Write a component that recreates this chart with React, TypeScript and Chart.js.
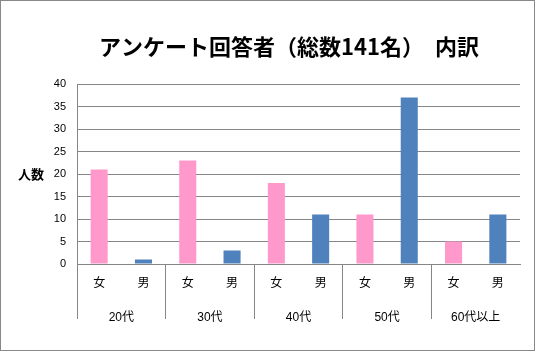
import React, { useEffect, useRef } from "react";
import { Chart, registerables } from "chart.js";

Chart.register(...registerables);

const titleText = "アンケート回答者（総数141名）　内訳";
const yTitle = "人数";
const ageGroups = ["20代", "30代", "40代", "50代", "60代以上"];
const sexes = ["女", "男"];
const femaleCounts = [21, 23, 18, 11, 5];
const maleCounts = [1, 3, 11, 37, 11];
const yTicksMax = 40;
const yTickStep = 5;

const PINK = "#FF99CC";
const BLUE = "#4F81BD";
const GRID = "#868686";
const FONT = "'Liberation Sans', 'Noto Sans CJK JP', sans-serif";
const CJK = "'Noto Sans CJK JP', sans-serif";

export default function App() {
  const ref = useRef<HTMLCanvasElement | null>(null);

  useEffect(() => {
    document.body.style.margin = "0";
    const canvas = ref.current;
    if (!canvas) return;

    const labels: string[] = [];
    const values: number[] = [];
    const colors: string[] = [];
    ageGroups.forEach((_, g) => {
      labels.push(sexes[0]);
      values.push(femaleCounts[g]);
      colors.push(PINK);
      labels.push(sexes[1]);
      values.push(maleCounts[g]);
      colors.push(BLUE);
    });

    const decor = {
      id: "decor",
      beforeDraw(chart: any) {
        const ctx = chart.ctx;
        ctx.save();
        ctx.fillStyle = "#fff";
        ctx.fillRect(0, 0, chart.width, chart.height);
        ctx.strokeStyle = "#888";
        ctx.lineWidth = 1;
        ctx.strokeRect(0.5, 0.5, 534, 350);
        ctx.restore();
      },
      afterDraw(chart: any) {
        const ctx = chart.ctx;
        const y = chart.scales.y;
        ctx.save();
        ctx.fillStyle = "#000";
        ctx.textAlign = "center";
        ctx.textBaseline = "middle";
        ctx.font = "bold 22px " + CJK;
        ctx.fillText(titleText, 289, 47);
        ctx.font = "bold 13px " + CJK;
        ctx.fillText(yTitle, 31, y.getPixelForValue(20));
        ctx.restore();
      },
    };

    const chart = new Chart(canvas, {
      type: "bar",
      data: {
        labels,
        datasets: [
          {
            data: values,
            backgroundColor: colors,
            barPercentage: 0.385,
            categoryPercentage: 1,
          },
        ],
      },
      options: {
        animation: false,
        responsive: false,
        layout: { padding: { top: 84, right: 16, left: 0, bottom: 0 } },
        plugins: {
          legend: { display: false },
          title: { display: false },
          tooltip: { enabled: false },
        },
        scales: {
          x: {
            type: "category",
            position: "bottom",
            offset: true,
            grid: {
              display: true,
              offset: true,
              drawOnChartArea: false,
              drawTicks: true,
              tickLength: 55,
              color: (c: any) => (c.index % 2 === 0 ? GRID : "rgba(0,0,0,0)"),
            },
            border: { display: true, color: GRID },
            ticks: {
              padding: -44,
              color: "#000",
              font: { size: 12, family: CJK },
              maxRotation: 0,
              autoSkip: false,
            },
            afterFit: (s: any) => {
              s.height = 32;
            },
          },
          x2: {
            type: "category",
            position: "bottom",
            labels: ageGroups,
            offset: true,
            grid: { display: false },
            border: { display: false },
            ticks: {
              padding: 6,
              color: "#000",
              font: { size: 12, family: FONT },
              maxRotation: 0,
              autoSkip: false,
            },
            afterFit: (s: any) => {
              s.height = 56;
            },
          },
          y: {
            min: 0,
            max: yTicksMax,
            ticks: {
              stepSize: yTickStep,
              padding: 11,
              color: "#000",
              font: { size: 11, family: FONT },
            },
            grid: { color: GRID, drawTicks: false },
            border: { display: true, color: GRID },
            afterFit: (s: any) => {
              s.width = 77;
            },
          },
        },
      },
      plugins: [decor],
    });

    return () => chart.destroy();
  }, []);

  return <canvas ref={ref} width={536} height={352} style={{ display: "block" }} />;
}
